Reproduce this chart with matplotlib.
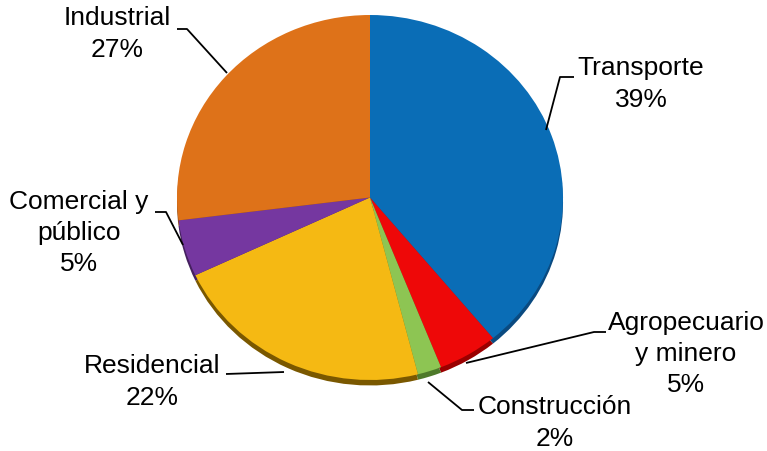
import matplotlib
matplotlib.use("Agg")
import matplotlib.pyplot as plt

plt.rcParams['font.family'] = ['Liberation Sans', 'DejaVu Sans']

# energy consumption share by sector (%)
sectors = ["Transporte", "Agropecuario\ny minero", "Construcción",
           "Residencial", "Comercial y\npúblico", "Industrial"]
shares = [39, 5, 2, 22, 5, 27]
colors = ["#0A6DB6", "#EE0808", "#8DC553", "#F5B913", "#7537A0", "#DE7219"]
rim_colors = ["#0A4A80", "#9A0000", "#4E7A2A", "#7A5800", "#45205F", "#8A4510"]

# label centre, leader path (pixel coords, y down)
label_pos = [(641, 84), (686, 354), (555, 423), (152, 382), (79, 233), (117, 34)]
leaders = [
    [(546, 130), (560, 77), (574, 77)],
    [(466, 363), (594, 332), (606, 332)],
    [(428, 382), (462, 410), (474, 410)],
    [(284, 372), (226, 374)],
    [(183, 245), (166, 212), (155, 212)],
    [(227, 73), (187, 29), (177, 29)],
]

W, H = 767, 451
fig = plt.figure(figsize=(W / 100, H / 100), dpi=100)

# pie drawn in its own axes, stretched slightly into an ellipse
px0, py0, pw, ph = 177, 15, 386, 365
pax = fig.add_axes([px0 / W, 1 - (py0 + ph) / H, pw / W, ph / H])
pax.pie(shares, colors=rim_colors, startangle=90, counterclock=False,
        center=(0, -0.03), radius=1.0,
        wedgeprops=dict(linewidth=0, clip_on=False))
pax.pie(shares, colors=colors, startangle=90, counterclock=False,
        radius=1.0, wedgeprops=dict(linewidth=0, clip_on=False))
pax.set_aspect('auto')
pax.set_xlim(-1, 1)
pax.set_ylim(-1, 1)
pax.axis('off')

# overlay for labels and leader lines, in pixel units
ax = fig.add_axes([0, 0, 1, 1])
ax.set_xlim(0, W)
ax.set_ylim(H, 0)
ax.axis('off')

for name, val, (lx, ly), path in zip(sectors, shares, label_pos, leaders):
    xs = [p[0] for p in path]
    ys = [p[1] for p in path]
    ax.plot(xs, ys, color="black", lw=1.3, solid_capstyle='butt')
    ax.text(lx, ly, f"{name}\n{val}%", ha="center", va="center",
            fontsize=19, linespacing=1.38, color="black")

fig.savefig("out.png", dpi=100)
